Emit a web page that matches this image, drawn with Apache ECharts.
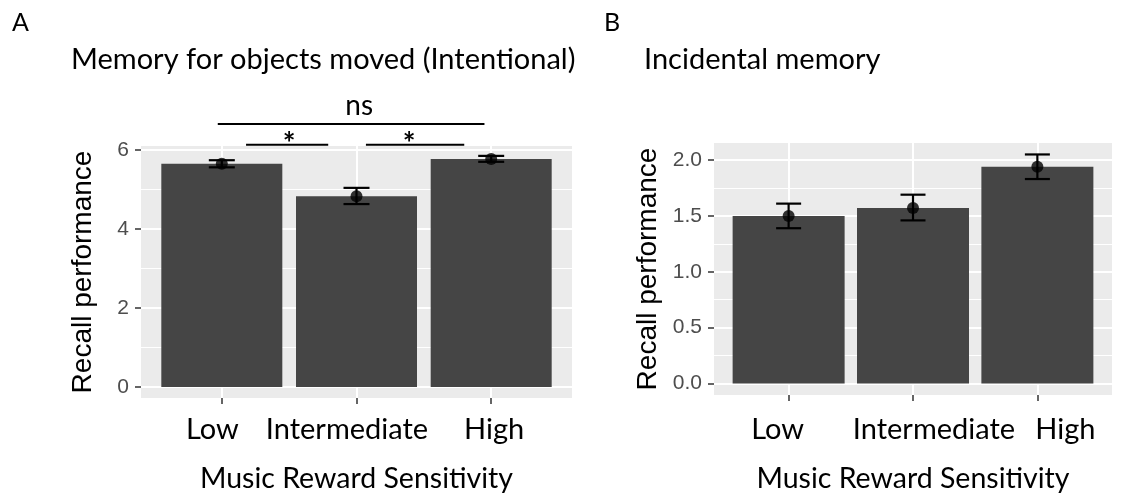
<!DOCTYPE html>
<html><head><meta charset="utf-8">
<script src="https://cdn.jsdelivr.net/npm/echarts@6/dist/echarts.min.js"></script>
<style>html,body{margin:0;padding:0;background:#fff}#c{width:1124px;height:495px}</style>
</head><body><div id="c"></div>
<script>
// ---- data ----
const categories = ['Low', 'Intermediate', 'High'];
const catIndex = [0, 1, 2];
const meanA = [5.65, 4.83, 5.77];
const lowerA = [5.56, 4.63, 5.70];
const upperA = [5.74, 5.04, 5.85];
const meanB = [1.50, 1.57, 1.94];
const lowerB = [1.39, 1.46, 1.83];
const upperB = [1.61, 1.69, 2.05];
const yTicksA = [0, 2, 4, 6];
const yMinorA = [1, 3, 5];
const yTicksB = [0, 0.5, 1, 1.5, 2];
const yMinorB = [0.25, 0.75, 1.25, 1.75];
// significance brackets in panel A (data units): start, end, height, label x
const bracketStart = [-0.03, 0.18, 1.07];
const bracketEnd = [1.95, 0.79, 1.80];
const bracketY = [6.66, 6.13, 6.13];
const bracketLabel = ['ns', '*', '*'];
const bracketLabelX = [1.02, 0.50, 1.39];

const FONT = 'Lato';
const chart = echarts.init(document.getElementById('c'), null, {renderer: 'canvas'});

function xAxisFor(gridIndex, shifts, margin, nameGap) {
  const rich = {};
  shifts.forEach((s, i) => {
    rich['c' + i] = {padding: s >= 0 ? [0, 0, 0, 2 * s] : [0, -2 * s, 0, 0], fontFamily: FONT, fontSize: 29, color: '#000'};
  });
  return {
    type: 'value', gridIndex, min: -0.6, max: 2.6,
    axisLine: {show: false, onZero: false},
    axisTick: {show: true, customValues: catIndex, length: 6, lineStyle: {color: '#333', width: 1.5}},
    axisLabel: {customValues: catIndex, margin, formatter: v => '{c' + v + '|' + categories[v] + '}', rich},
    splitLine: {show: true, lineStyle: {color: '#fff', width: 2}},
    name: 'Music Reward Sensitivity', nameLocation: 'middle', nameGap,
    nameTextStyle: {fontFamily: FONT, fontSize: 28.5, color: '#000'}
  };
}
function yAxesFor(gridIndex, min, max, ticks, minor, fmt, nameGap) {
  return [{
    type: 'value', gridIndex, min, max,
    axisLine: {show: false, onZero: false},
    axisTick: {show: true, customValues: ticks, length: 6, lineStyle: {color: '#333', width: 1.5}},
    axisLabel: {customValues: ticks, formatter: fmt, margin: 12, color: '#4d4d4d', fontSize: 21, fontFamily: 'Liberation Sans'},
    splitLine: {show: true, lineStyle: {color: '#fff', width: 2}},
    name: 'Recall performance', nameLocation: 'middle', nameRotate: 90, nameGap,
    nameTextStyle: {fontFamily: 'Liberation Sans', fontSize: 28, color: '#000'}
  }, {
    type: 'value', gridIndex, min, max,
    axisLine: {show: false, onZero: false}, axisTick: {show: false, customValues: minor},
    axisLabel: {show: false},
    splitLine: {show: true, lineStyle: {color: '#fff', width: 1}}
  }];
}
function errorSeries(xi, yi, lower, upper, cap) {
  return {
    type: 'custom', xAxisIndex: xi, yAxisIndex: yi, z: 5,
    data: catIndex.map(i => [i, lower[i], upper[i]]),
    renderItem: (params, api) => {
      const lo = api.coord([api.value(0), api.value(1)]);
      const hi = api.coord([api.value(0), api.value(2)]);
      const st = {stroke: '#000', lineWidth: 2.2};
      return {type: 'group', children: [
        {type: 'line', shape: {x1: lo[0], y1: lo[1], x2: hi[0], y2: hi[1]}, style: st},
        {type: 'line', shape: {x1: lo[0] - cap / 2, y1: lo[1], x2: lo[0] + cap / 2, y2: lo[1]}, style: st},
        {type: 'line', shape: {x1: hi[0] - cap / 2, y1: hi[1], x2: hi[0] + cap / 2, y2: hi[1]}, style: st}
      ]};
    }
  };
}

const gridCommon = {show: true, backgroundColor: '#ebebeb', borderWidth: 0, containLabel: false, outerBoundsMode: 'none'};
const option = {
  backgroundColor: '#fff',
  animation: false,
  title: [
    {text: 'A', left: 12, top: 10, padding: 0, textStyle: {fontFamily: FONT, fontWeight: 'normal', fontSize: 25, color: '#000'}},
    {text: 'Memory for objects moved (Intentional)', left: 71, top: 45, padding: 0, textStyle: {fontFamily: FONT, fontWeight: 'normal', fontSize: 29, color: '#000'}},
    {text: 'B', left: 604, top: 10, padding: 0, textStyle: {fontFamily: FONT, fontWeight: 'normal', fontSize: 25, color: '#000'}},
    {text: 'Incidental memory', left: 644, top: 45, padding: 0, textStyle: {fontFamily: FONT, fontWeight: 'normal', fontSize: 29, color: '#000'}}
  ],
  grid: [
    Object.assign({left: 141, right: 1124 - 572, top: 146, bottom: 495 - 398}, gridCommon),
    Object.assign({left: 714, right: 1124 - 1112, top: 143, bottom: 495 - 395}, gridCommon)
  ],
  xAxis: [xAxisFor(0, [-9.5, -9.5, 3], 17, 66), xAxisFor(1, [-11, 21, 28], 20, 69)],
  yAxis: [
    ...yAxesFor(0, -0.28, 6.10, yTicksA, yMinorA, v => String(v), 44),
    ...yAxesFor(1, -0.1025, 2.1525, yTicksB, yMinorB, v => v.toFixed(1), 52)
  ],
  series: [
    {type: 'bar', xAxisIndex: 0, yAxisIndex: 0, barWidth: 121, itemStyle: {color: '#454545'},
     data: catIndex.map(i => [i, meanA[i]])},
    errorSeries(0, 0, lowerA, upperA, 26),
    {type: 'scatter', xAxisIndex: 0, yAxisIndex: 0, symbolSize: 12, z: 6, itemStyle: {color: '#000'},
     data: catIndex.map(i => [i, meanA[i]])},
    {type: 'bar', xAxisIndex: 1, yAxisIndex: 2, barWidth: 112, itemStyle: {color: '#454545'},
     data: catIndex.map(i => [i, meanB[i]])},
    errorSeries(1, 2, lowerB, upperB, 25),
    {type: 'scatter', xAxisIndex: 1, yAxisIndex: 2, symbolSize: 12, z: 6, itemStyle: {color: '#000'},
     data: catIndex.map(i => [i, meanB[i]])},
    {type: 'custom', xAxisIndex: 0, yAxisIndex: 0, z: 7, clip: false,
     data: bracketY.map((y, i) => [bracketStart[i], bracketEnd[i], y, bracketLabelX[i]]),
     renderItem: (params, api) => {
       const a = api.coord([api.value(0), api.value(2)]);
       const b = api.coord([api.value(1), api.value(2)]);
       const t = api.coord([api.value(3), api.value(2)]);
       const lab = bracketLabel[params.dataIndex];
       const isNs = lab === 'ns';
       return {type: 'group', children: [
         {type: 'line', shape: {x1: a[0], y1: a[1], x2: b[0], y2: b[1]}, style: {stroke: '#000', lineWidth: 2}},
         {type: 'text', x: t[0], y: t[1] + (isNs ? -4 : 15), style: {text: lab, x: 0, y: 0, textAlign: 'center', textVerticalAlign: 'bottom',
           fontFamily: FONT, fontSize: isNs ? 28 : 30, fontWeight: isNs ? 'normal' : 'bold', fill: '#000'}}
       ]};
     }}
  ]
};
chart.setOption(option);
</script></body></html>
